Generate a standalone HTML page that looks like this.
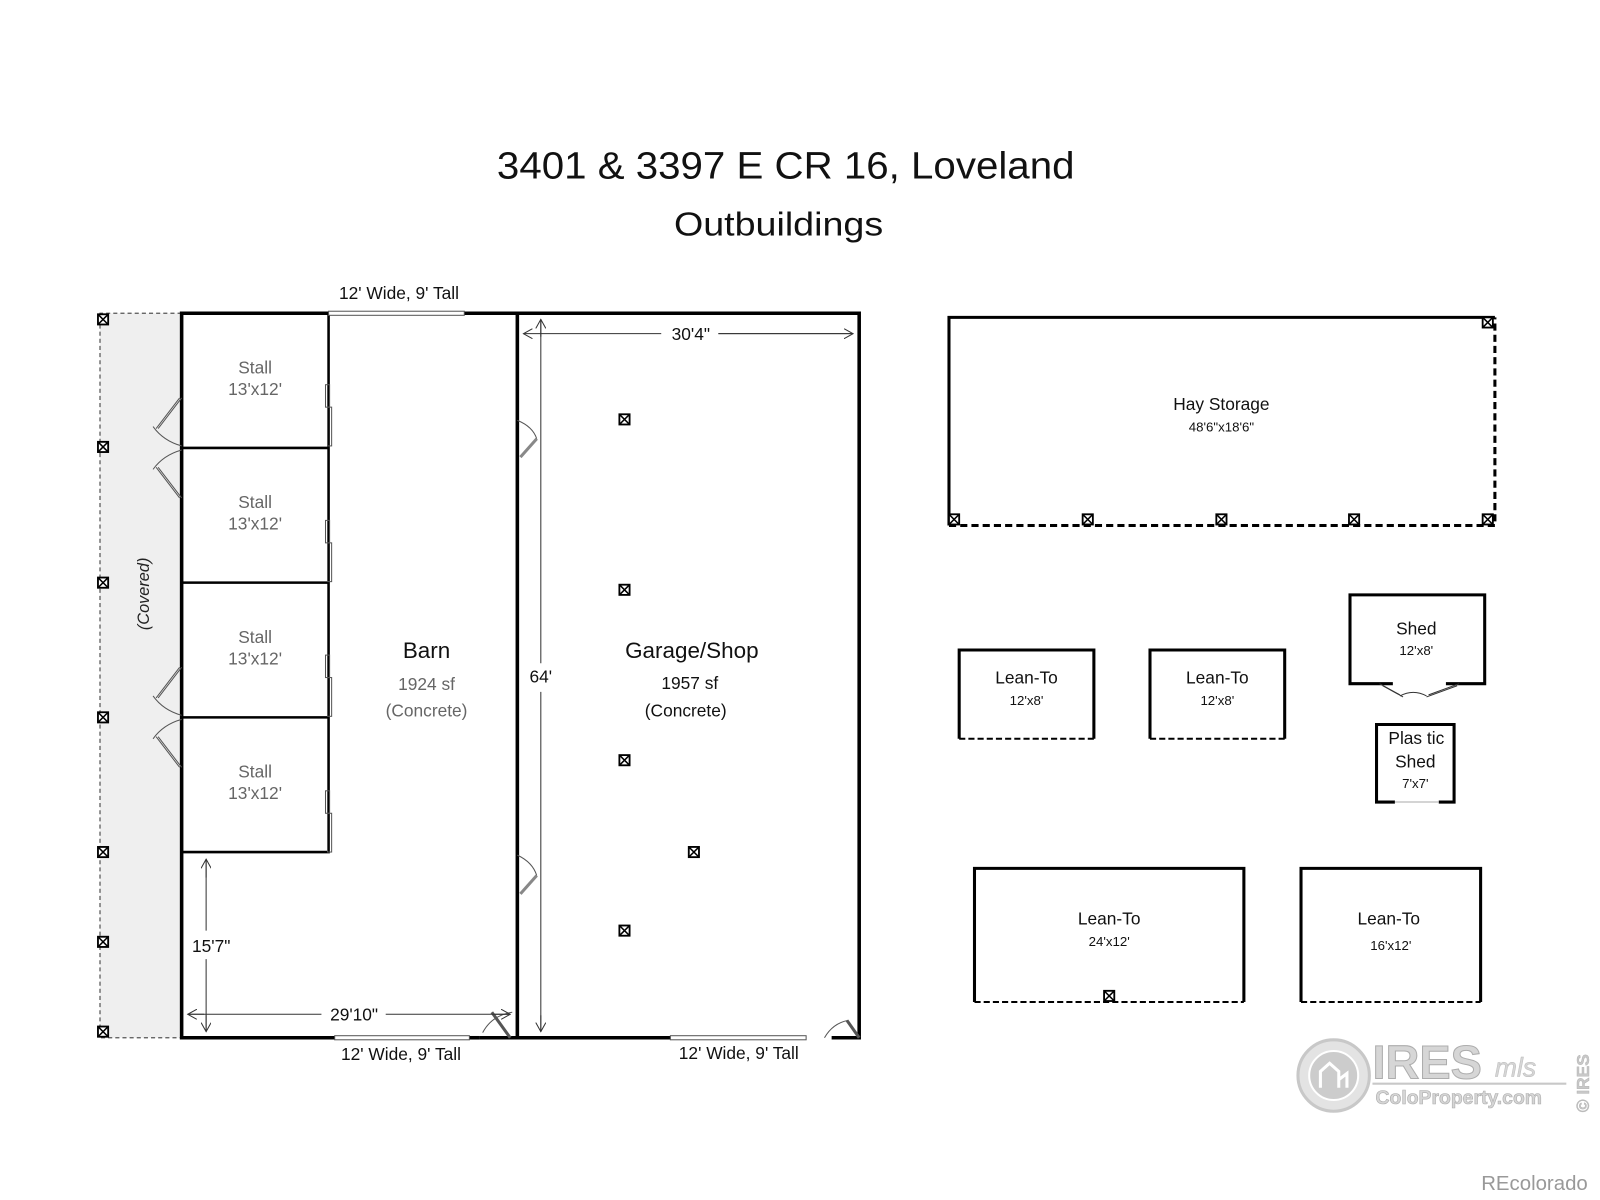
<!DOCTYPE html>
<html><head><meta charset="utf-8"><style>
html,body{margin:0;padding:0;background:#fff;}
svg{display:block;}
text{font-family:"Liberation Sans",sans-serif;}
</style></head><body>
<svg width="1600" height="1200" viewBox="0 0 1568 1176" xmlns="http://www.w3.org/2000/svg">
<defs>
<symbol id="m" viewBox="0 0 12 12" overflow="visible">
<rect x="1" y="1" width="10" height="10" fill="#fff" stroke="#000" stroke-width="1.8"/>
<path d="M1 1L11 11M11 1L1 11" stroke="#000" stroke-width="1.5"/>
</symbol>
<marker id="ar" viewBox="0 0 10 10" refX="9" refY="5" markerWidth="10" markerHeight="10" orient="auto-start-reverse" markerUnits="userSpaceOnUse"><path d="M0 0L9 5L0 10" fill="none" stroke="#333" stroke-width="1"/></marker>
</defs>
<rect width="1568" height="1176" fill="#fff"/>
<text x="770" y="175" font-size="37" text-anchor="middle" fill="#111" textLength="566" lengthAdjust="spacingAndGlyphs">3401 &amp; 3397 E CR 16, Loveland</text>
<text x="763" y="231" font-size="33" text-anchor="middle" fill="#111" textLength="205" lengthAdjust="spacingAndGlyphs">Outbuildings</text>

<rect x="98" y="307" width="80" height="710" fill="#efefef"/>
<path d="M178 307H98V1017H178" fill="none" stroke="#555" stroke-width="1.2" stroke-dasharray="4 3"/>
<text transform="translate(146,582) rotate(-90)" font-size="16" font-style="italic" text-anchor="middle" fill="#222">(Covered)</text>
<g>
<use href="#m" x="95" y="307" width="12" height="12"/>
<use href="#m" x="95" y="432" width="12" height="12"/>
<use href="#m" x="95" y="565" width="12" height="12"/>
<use href="#m" x="95" y="697" width="12" height="12"/>
<use href="#m" x="95" y="829" width="12" height="12"/>
<use href="#m" x="95" y="917" width="12" height="12"/>
<use href="#m" x="95" y="1005" width="12" height="12"/>
</g>

<g fill="none" stroke="#000" stroke-width="3.5">
<path d="M322 307H178V1017H328"/>
<path d="M455 307H507V1017H470"/>
<path d="M507 307H842V1017H815"/>
<path d="M657 1017H507"/>
<path d="M460 1017H470"/>
<path d="M322 307V835H178" stroke-width="2.5"/>
<path d="M178 439H322M178 571H322M178 703H322" stroke-width="2.5"/>
</g>
<rect x="322" y="305" width="133" height="4" fill="#fff" stroke="#555" stroke-width="1"/>
<rect x="328" y="1015" width="132" height="4" fill="#fff" stroke="#555" stroke-width="1"/>
<rect x="657" y="1015" width="133" height="4" fill="#fff" stroke="#555" stroke-width="1"/>
<text x="391" y="293" font-size="17" text-anchor="middle" fill="#111">12' Wide, 9' Tall</text>
<text x="393" y="1039" font-size="17" text-anchor="middle" fill="#111">12' Wide, 9' Tall</text>
<text x="724" y="1038" font-size="17" text-anchor="middle" fill="#111">12' Wide, 9' Tall</text>

<g fill="none" stroke="#555" stroke-width="1">
<path d="M178 390L155 420M176 390L153 420M150 418Q160 432 178 437"/>
<path d="M178 488L155 458M176 488L153 458M150 460Q160 446 178 441"/>
<path d="M178 654L155 684M176 654L153 684M150 682Q160 696 178 701"/>
<path d="M178 752L155 722M176 752L153 722M150 724Q160 710 178 705"/>
<rect x="319" y="377" width="4" height="22"/><rect x="321" y="399" width="4" height="38"/>
<rect x="319" y="510" width="4" height="22"/><rect x="321" y="532" width="4" height="38"/>
<rect x="319" y="642" width="4" height="22"/><rect x="321" y="664" width="4" height="38"/>
<rect x="319" y="775" width="4" height="22"/><rect x="321" y="797" width="4" height="38"/>
<path d="M507 412Q522 418 526 430"/>
<path d="M507 838Q522 845 526 858"/>
<path d="M502 992Q482 995 473 1012"/>
<path d="M831 1000Q816 1003 808 1017"/>
</g>
<path d="M482 992L500 1017" stroke="#555" stroke-width="3"/>
<path d="M830 1000L842 1017" stroke="#555" stroke-width="3"/>
<path d="M526 430L510 448" stroke="#888" stroke-width="3"/>
<path d="M526 858L510 876" stroke="#888" stroke-width="3"/>

<g font-size="17" fill="#666" text-anchor="middle">
<text x="250" y="366">Stall</text><text x="250" y="387">13'x12'</text>
<text x="250" y="498">Stall</text><text x="250" y="519">13'x12'</text>
<text x="250" y="630">Stall</text><text x="250" y="651">13'x12'</text>
<text x="250" y="762">Stall</text><text x="250" y="783">13'x12'</text>
</g>
<text x="418" y="645" font-size="22" text-anchor="middle" fill="#111">Barn</text>
<text x="418" y="676" font-size="17" text-anchor="middle" fill="#666">1924 sf</text>
<text x="418" y="702" font-size="17" text-anchor="middle" fill="#666">(Concrete)</text>
<text x="678" y="645" font-size="22" text-anchor="middle" fill="#111">Garage/Shop</text>
<text x="676" y="675" font-size="17" text-anchor="middle" fill="#111">1957 sf</text>
<text x="672" y="702" font-size="17" text-anchor="middle" fill="#111">(Concrete)</text>

<g stroke="#333" stroke-width="1" fill="none">
<path d="M513 327H648M704 327H836" marker-start="url(#ar)"/>
<path d="M704 327H836" marker-end="url(#ar)"/>
<path d="M530 313V650M530 678V1011" />
<path d="M530 313V330" marker-start="url(#ar)"/>
<path d="M530 995V1011" marker-end="url(#ar)"/>
<path d="M184 994H315M378 994H500" />
<path d="M184 994H200" marker-start="url(#ar)"/>
<path d="M485 994H500" marker-end="url(#ar)"/>
<path d="M202 842V912M202 940V1011"/>
<path d="M202 842V860" marker-start="url(#ar)"/>
<path d="M202 995V1011" marker-end="url(#ar)"/>
</g>
<text x="677" y="333" font-size="17" text-anchor="middle" fill="#111">30'4"</text>
<text x="530" y="669" font-size="17" text-anchor="middle" fill="#111">64'</text>
<text x="347" y="1000" font-size="17" text-anchor="middle" fill="#111">29'10"</text>
<text x="207" y="933" font-size="17" text-anchor="middle" fill="#111">15'7"</text>
<use href="#m" x="606" y="405" width="12" height="12"/>
<use href="#m" x="606" y="572" width="12" height="12"/>
<use href="#m" x="606" y="739" width="12" height="12"/>
<use href="#m" x="674" y="829" width="12" height="12"/>
<use href="#m" x="606" y="906" width="12" height="12"/>

<path d="M1465 311H930V515" fill="none" stroke="#000" stroke-width="3"/>
<path d="M930 515H1465V311" fill="none" stroke="#000" stroke-width="3" stroke-dasharray="7 4"/>
<use href="#m" x="1452" y="310" width="12" height="12"/>
<use href="#m" x="929" y="503" width="12" height="12"/>
<use href="#m" x="1060" y="503" width="12" height="12"/>
<use href="#m" x="1191" y="503" width="12" height="12"/>
<use href="#m" x="1321" y="503" width="12" height="12"/>
<use href="#m" x="1452" y="503" width="12" height="12"/>
<text x="1197" y="402" font-size="17" text-anchor="middle" fill="#111">Hay Storage</text>
<text x="1197" y="423" font-size="13" text-anchor="middle" fill="#111">48'6"x18'6"</text>

<g fill="none" stroke="#000" stroke-width="3">
<path d="M940 724V637H1072V724"/>
<path d="M1127 724V637H1259V724"/>
<path d="M955 982V851H1219V982"/>
<path d="M1275 982V851H1451V982"/>
<path d="M1365 670H1323V583H1455V670H1417"/>
<path d="M1367 786H1349V710H1425V786H1410"/>
</g>
<g fill="none" stroke="#000" stroke-width="2" stroke-dasharray="6 3">
<path d="M940 724H1072"/><path d="M1127 724H1259"/>
<path d="M955 982H1219"/><path d="M1275 982H1451"/>
</g>
<path d="M1367 786H1410" stroke="#aaa" stroke-width="1"/>
<path d="M1352 670L1372 681M1355 672L1375 683M1430 670L1400 681M1428 672L1398 683M1372 682Q1385 675 1398 682" stroke="#333" stroke-width="1" fill="none"/>
<use href="#m" x="1081" y="970" width="12" height="12"/>
<g text-anchor="middle" fill="#111">
<text x="1006" y="670" font-size="17">Lean-To</text><text x="1006" y="691" font-size="13">12'x8'</text>
<text x="1193" y="670" font-size="17">Lean-To</text><text x="1193" y="691" font-size="13">12'x8'</text>
<text x="1388" y="622" font-size="17">Shed</text><text x="1388" y="642" font-size="13">12'x8'</text>
<text x="1388" y="729" font-size="17">Plas tic</text><text x="1387" y="752" font-size="17">Shed</text><text x="1387" y="772" font-size="13">7'x7'</text>
<text x="1087" y="906" font-size="17">Lean-To</text><text x="1087" y="927" font-size="13">24'x12'</text>
<text x="1361" y="906" font-size="17">Lean-To</text><text x="1363" y="931" font-size="13">16'x12'</text>
</g>

<g opacity="0.8">
<circle cx="1307" cy="1054" r="35" fill="#ddd" stroke="#bbb" stroke-width="3"/>
<circle cx="1307" cy="1054" r="24" fill="#c0c0c0" stroke="#fff" stroke-width="2"/>
<path d="M1294 1066V1050L1303 1042L1312 1050V1066M1312 1058L1320 1052V1066" fill="none" stroke="#fff" stroke-width="3"/>
<text x="1345" y="1057" font-size="46" font-weight="bold" fill="#ccc" stroke="#999" stroke-width="1">IRES</text>
<text x="1465" y="1055" font-size="26" font-style="italic" fill="#ccc" stroke="#aaa" stroke-width="0.5">mls</text>
<line x1="1345" y1="1062" x2="1535" y2="1062" stroke="#bbb" stroke-width="2"/>
<text x="1348" y="1082" font-size="19" font-weight="bold" fill="#ccc" stroke="#999" stroke-width="0.6">ColoProperty.com</text>
<text transform="translate(1557,1090) rotate(-90)" font-size="17" font-weight="bold" fill="#bbb" stroke="#999" stroke-width="0.4">© IRES</text>
</g>
<text x="1556" y="1166" font-size="20" text-anchor="end" fill="#999">REcolorado</text>
</svg>
</body></html>
